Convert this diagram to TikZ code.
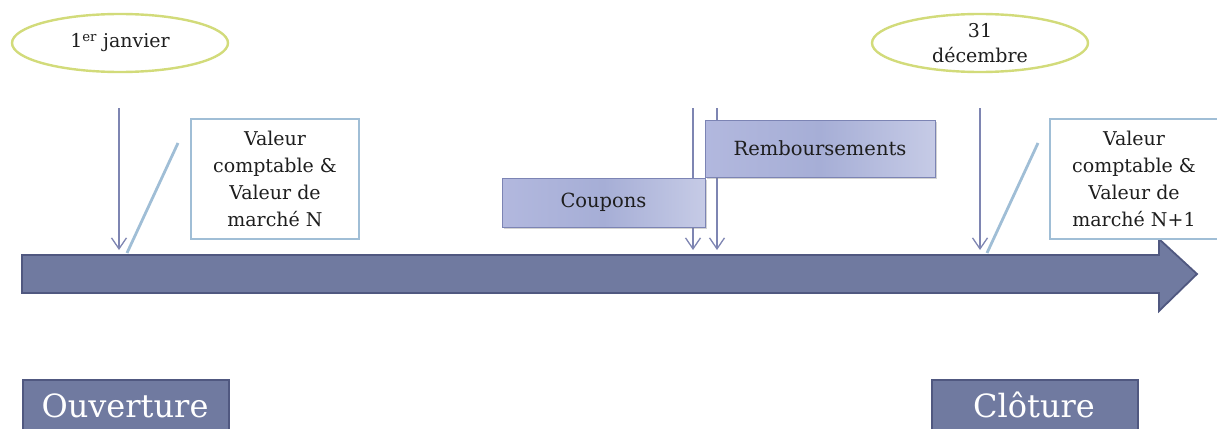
\documentclass[tikz,border=0pt]{standalone}
\usepackage{fontspec}
\setmainfont{DejaVu Serif}
\usetikzlibrary{shapes.geometric,arrows.meta,shadows}

\definecolor{dategreen}{HTML}{D2DB7A}
\definecolor{tickblue}{HTML}{7E85B2}
\definecolor{paleblue}{HTML}{A0BED6}
\definecolor{barfill}{HTML}{707AA0}
\definecolor{baredge}{HTML}{505880}
\definecolor{flowedge}{HTML}{7C84B4}
\definecolor{flowmid}{HTML}{A6AED6}
\definecolor{flowleft}{HTML}{B2B8DE}
\definecolor{flowlight}{HTML}{C6CBE6}
\definecolor{inktext}{HTML}{1E1E1E}

\tikzset{
  datebox/.style={ellipse, draw=dategreen, line width=2.4pt, minimum width=216pt,
    minimum height=58pt, inner sep=0pt, align=center, text=inktext,
    font=\fontsize{19}{25}\selectfont},
  valuebox/.style={rectangle, draw=paleblue, line width=2.5pt, fill=white,
    minimum width=168pt, minimum height=120pt, inner sep=0pt, align=center,
    text=inktext, font=\fontsize{19}{27}\selectfont},
  flowbox/.style={rectangle, draw=flowedge, line width=0.8pt, left color=flowleft,
    right color=flowlight, middle color=flowmid, inner sep=0pt, text=inktext,
    drop shadow={shadow xshift=2pt, shadow yshift=-2pt, opacity=0.35},
    font=\fontsize{19.5}{25}\selectfont},
  phasebox/.style={rectangle, draw=baredge, line width=2pt, fill=barfill,
    inner sep=0pt},
  phaselabel/.style={text=white, inner sep=0pt, font=\fontsize{32}{36}\selectfont},
  tick/.style={draw=tickblue, line width=1.3pt, -{Straight Barb[length=11pt,width=15pt]}},
  slash/.style={draw=paleblue, line width=2.8pt},
}

\begin{document}
\begin{tikzpicture}[x=1pt,y=-1pt]
\useasboundingbox (0,0) rectangle (1217,428);
\clip (0,0) rectangle (1217,428);

% time line
\path[fill=barfill, draw=baredge, line width=1.8pt, line join=miter]
  (22,255) -- (1159,255) -- (1159,239) -- (1197,274) -- (1159,311)
  -- (1159,293) -- (22,293) -- cycle;

% dates
\node[datebox] (jan) at (120,43) {1\textsuperscript{er} janvier};
\node[datebox] (dec) at (980,43) {31\\décembre};

% date ticks
\coordinate (janTop) at (119,108);
\coordinate (janEnd) at (119,250);
\coordinate (decTop) at (980,108);
\coordinate (decEnd) at (980,250);
\draw[tick] (janTop) -- (janEnd);
\draw[tick] (decTop) -- (decEnd);

% cash-flow ticks (drawn under their boxes)
\coordinate (cpTop) at (693,108);
\coordinate (cpEnd) at (693,250);
\coordinate (rbTop) at (717,108);
\coordinate (rbEnd) at (717,250);
\draw[tick] (cpTop) -- (cpEnd);
\draw[tick] (rbTop) -- (rbEnd);

% cash flows
\node[flowbox, minimum width=203pt, minimum height=49pt] (coupons) at (603.5,202.5) {Coupons};
\node[flowbox, minimum width=230pt, minimum height=57pt] (remb) at (820,148.5) {Remboursements};

% valuations
\node[valuebox] (valN) at (275,179) {Valeur\\comptable \&\\Valeur de\\marché N};
\node[valuebox] (valN1) at (1134,179) {Valeur\\comptable \&\\Valeur de\\marché N+1};

\coordinate (slNa) at (178,143);
\coordinate (slNb) at (127,253);
\coordinate (slN1a) at (1038,143);
\coordinate (slN1b) at (987,253);
\draw[slash] (slNa) -- (slNb);
\draw[slash] (slN1a) -- (slN1b);

% phases
\node[phasebox, minimum width=206pt, minimum height=70pt, anchor=north west] (open) at (22,379) {};
\node[phaselabel, anchor=base] (openlbl) at (125,417) {Ouverture};
\node[phasebox, minimum width=206pt, minimum height=70pt, anchor=north west] (close) at (931,379) {};
\node[phaselabel, anchor=base] (closelbl) at (1034,417) {Clôture};
\end{tikzpicture}
\end{document}
